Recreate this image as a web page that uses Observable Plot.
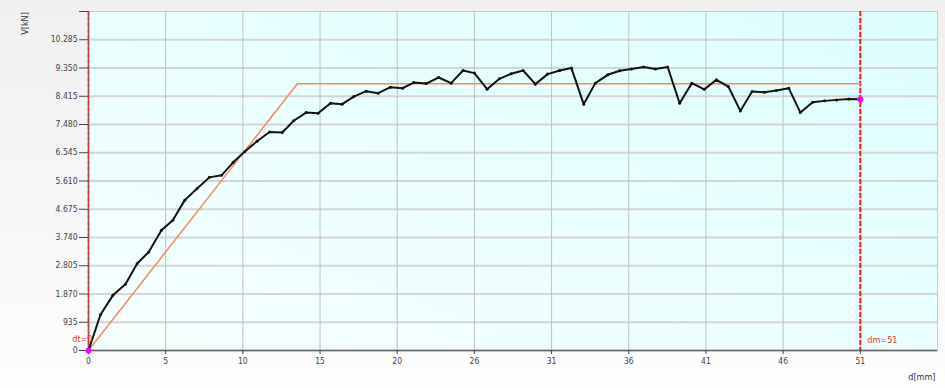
<!DOCTYPE html>
<html>
<head>
<meta charset="utf-8">
<script src="https://cdn.jsdelivr.net/npm/d3@7"></script>
<script src="https://cdn.jsdelivr.net/npm/@observablehq/plot@0.6"></script>
<style>
  html, body { margin: 0; padding: 0; background: #ffffff; }
  #chart svg { display: block; }
</style>
</head>
<body>
<div id="chart"></div>
<script>
// Measured load–displacement curve: displacement d [mm], load V
const d_mm = [0, 0.79, 1.61, 2.44, 3.22, 3.98, 4.82, 5.57, 6.36, 7.18, 7.99, 8.79, 9.56, 10.33,
  11.14, 11.96, 12.80, 13.56, 14.38, 15.17, 15.99, 16.76, 17.53, 18.35, 19.14, 19.95, 20.76,
  21.49, 22.31, 23.14, 23.96, 24.75, 25.50, 26.34, 27.15, 27.92, 28.72, 29.53, 30.34, 31.14,
  31.91, 32.72, 33.49, 34.31, 35.10, 35.87, 36.68, 37.46, 38.27, 39.06, 39.87, 40.69, 41.49,
  42.28, 43.07, 43.85, 44.66, 45.45, 46.27, 47.04, 47.85, 48.64, 49.44, 50.25, 51];
const V_load = [0, 1184, 1825, 2190, 2877, 3262, 3982, 4313, 4977, 5365, 5730, 5797, 6228, 6586,
  6928, 7233, 7217, 7605, 7874, 7854, 8185, 8152, 8405, 8584, 8517, 8716, 8683, 8869, 8836,
  9035, 8849, 9267, 9181, 8650, 8992, 9158, 9267, 8816, 9148, 9267, 9347, 8152, 8849, 9125,
  9257, 9317, 9380, 9314, 9383, 8185, 8849, 8643, 8959, 8736, 7930, 8570, 8550, 8604, 8683,
  7874, 8219, 8262, 8295, 8322, 8318];

// Bilinear idealisation of the curve
const ideal_d = [0, 13.8, 51];
const ideal_V = [0, 8826, 8826];

// Markers: start displacement dt and maximum displacement dm
const dt = 0;
const dm = 51;

// Axis ticks and their printed labels
const xTicks = [0, 5.1, 10.2, 15.3, 20.4, 25.5, 30.6, 35.7, 40.8, 45.9, 51];
const xTickLabels = ["0", "5", "10", "15", "20", "26", "31", "36", "41", "46", "51"];
const yTicks = [0, 935, 1870, 2805, 3740, 4675, 5610, 6545, 7480, 8415, 9350, 10285];
const yTickLabels = ["0", "935", "1.870", "2.805", "3.740", "4.675", "5.610", "6.545",
  "7.480", "8.415", "9.350", "10.285"];
const xMax = 56.1;
const yMax = 11220;

const curve = d_mm.map((d, i) => ({d, V: V_load[i]}));
const ideal = ideal_d.map((d, i) => ({d, V: ideal_V[i]}));
const ends = [curve[0], curve[curve.length - 1]];
const xLabelOf = new Map(xTicks.map((t, i) => [t, xTickLabels[i]]));
const yLabelOf = new Map(yTicks.map((t, i) => [t, yTickLabels[i]]));

const chart = Plot.plot({
  width: 945,
  height: 388,
  marginLeft: 88,
  marginRight: 8,
  marginTop: 11,
  marginBottom: 38,
  style: {
    fontFamily: "'DejaVu Sans Condensed', 'DejaVu Sans', sans-serif",
    fontSize: "8.5px",
    color: "#333",
    background: "linear-gradient(to bottom, #f0f0f0, #fdfdfd)"
  },
  x: {domain: [0, xMax]},
  y: {domain: [0, yMax]},
  marks: [
    Plot.frame({fill: "url(#panelBg)", stroke: "#c8c8c8"}),
    Plot.ruleY(yTicks, {stroke: "#d4d4d4", strokeWidth: 2}),
    Plot.ruleX(xTicks, {stroke: "#c2c2c2"}),
    // axis lines
    Plot.ruleX([0], {stroke: "#666", strokeWidth: 1.5}),
    Plot.ruleY([0], {stroke: "#666", strokeWidth: 1.5}),
    Plot.axisY([...yTicks, yMax], {
      label: null, tickSize: 9, tickPadding: 2, color: "#444",
      tickFormat: v => yLabelOf.get(v) ?? ""
    }),
    Plot.axisX(xTicks, {
      label: null, tickSize: 4, tickPadding: 3, color: "#444",
      tickFormat: v => xLabelOf.get(v) ?? ""
    }),
    // dt / dm limits
    Plot.ruleX([dt], {stroke: "#d03a3a", strokeWidth: 1.5, strokeDasharray: "4,2"}),
    Plot.ruleX([dm], {stroke: "#ff1414", strokeWidth: 2, strokeDasharray: "5,2"}),
    // idealised curve
    Plot.line(ideal, {x: "d", y: "V", stroke: "#f58a5e", strokeWidth: 1.5}),
    // measured curve
    Plot.line(curve, {x: "d", y: "V", stroke: "#111", strokeWidth: 2}),
    Plot.dot(curve, {x: "d", y: "V", r: 1.5, fill: "#111"}),
    Plot.dot(ends, {x: "d", y: "V", r: 3, fill: "#ff00ff"}),
    Plot.text([dt], {x: d => d, text: d => `dt=${d}`, frameAnchor: "bottom",
      textAnchor: "end", dx: 4, dy: -9, fill: "#ff2a2a", fontSize: 9}),
    Plot.text([dm], {x: d => d, text: d => `dm=${d}`, frameAnchor: "bottom",
      textAnchor: "start", dx: 7, dy: -8, fill: "#ff2a2a", fontSize: 9}),
    // axis titles
    Plot.text(["V[kN]"], {frameAnchor: "top-left", rotate: -90, textAnchor: "middle",
      dx: -67, dy: 12, fill: "#333", fontSize: 9}),
    Plot.text(["d[mm]"], {frameAnchor: "bottom-right", textAnchor: "end",
      dx: -2, dy: 29, fill: "#333", fontSize: 9})
  ]
});

// light cyan panel gradient
const grad = d3.select(chart).insert("defs", ":first-child")
  .append("linearGradient")
  .attr("id", "panelBg")
  .attr("x1", 0).attr("y1", 1).attr("x2", 1).attr("y2", 0);
grad.append("stop").attr("offset", 0).attr("stop-color", "#f6fffe");
grad.append("stop").attr("offset", 1).attr("stop-color", "#dcffff");

document.getElementById("chart").append(chart);
</script>
</body>
</html>
